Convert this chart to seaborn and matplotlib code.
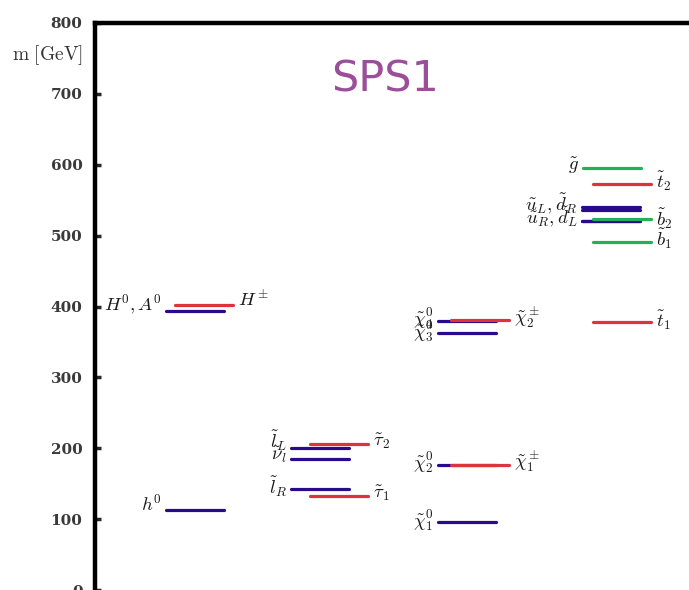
import matplotlib
matplotlib.use("Agg")
import matplotlib.pyplot as plt
import seaborn as sns
import pandas as pd

# Mass spectrum of the SPS1 benchmark point (GeV)
higgs_labels = [r"$h^0$", r"$H^0, A^0$", r"$H^\pm$"]
higgs_mass = [113, 394, 402]
higgs_kind = ["neutral", "neutral", "charged"]

slepton_labels = [r"$\tilde{l}_L$", r"$\tilde{\nu}_l$", r"$\tilde{l}_R$",
                  r"$\tilde{\tau}_2$", r"$\tilde{\tau}_1$"]
slepton_mass = [200, 185, 142, 206, 132]
slepton_kind = ["neutral", "neutral", "neutral", "charged", "charged"]

gaugino_labels = [r"$\tilde{\chi}^0_4$", r"$\tilde{\chi}^0_3$", r"$\tilde{\chi}^0_2$",
                  r"$\tilde{\chi}^0_1$", r"$\tilde{\chi}^\pm_2$", r"$\tilde{\chi}^\pm_1$"]
gaugino_mass = [380, 362, 177, 96, 381, 177]
gaugino_kind = ["neutral", "neutral", "neutral", "neutral", "charged", "charged"]

squark_labels = [r"$\tilde{g}$", r"$\tilde{u}_L$", r"$\tilde{d}_R$", r"$\tilde{u}_R$",
                 r"$\tilde{d}_L$", r"$\tilde{t}_2$", r"$\tilde{b}_2$", r"$\tilde{b}_1$",
                 r"$\tilde{t}_1$"]
squark_mass = [595, 541, 536, 521, 520, 573, 523, 491, 378]
squark_kind = ["gluino", "neutral", "neutral", "neutral", "neutral",
               "charged", "third", "third", "charged"]

y_ticks = [0, 100, 200, 300, 400, 500, 600, 700, 800]

# ---- layout (horizontal placement in pixel-like units) ----
LINE_LEN = 58
column_base = {"higgs": 166, "slepton": 291, "gaugino": 438, "squark": 582}
kind_shift = {
    "higgs": {"neutral": 0, "charged": 9},
    "slepton": {"neutral": 0, "charged": 19},
    "gaugino": {"neutral": 0, "charged": 13},
    "squark": {"neutral": 0, "gluino": 1, "charged": 11, "third": 11},
}
palette = {"neutral": "#2a0a8c", "charged": "#e0323c",
           "gluino": "#22b05c", "third": "#22b05c"}

columns = {
    "higgs": (higgs_labels, higgs_mass, higgs_kind),
    "slepton": (slepton_labels, slepton_mass, slepton_kind),
    "gaugino": (gaugino_labels, gaugino_mass, gaugino_kind),
    "squark": (squark_labels, squark_mass, squark_kind),
}

rows = []
for col, (labels, masses, kinds) in columns.items():
    for i, (lab, m, k) in enumerate(zip(labels, masses, kinds)):
        x0 = column_base[col] + kind_shift[col][k]
        uid = f"{col}-{i}"
        rows.append({"id": uid, "x": x0, "m": m, "kind": k})
        rows.append({"id": uid, "x": x0 + LINE_LEN, "m": m, "kind": k})
df = pd.DataFrame(rows)

sns.set_theme(style="white")
plt.rcParams["mathtext.fontset"] = "cm"
plt.rcParams["font.family"] = ["DejaVu Serif"]

fig = plt.figure(figsize=(6.89, 5.90), dpi=100)
ax = fig.add_axes([95 / 689, 0.0, 1 - 95 / 689, 1 - 23 / 590])

sns.lineplot(data=df, x="x", y="m", units="id", hue="kind", palette=palette,
             estimator=None, sort=False, linewidth=2.3, legend=False, ax=ax)

ax.set_xlim(95, 689)
ax.set_ylim(0, 800)
ax.set_xlabel("")
ax.set_ylabel("")
ax.set_xticks([])
ax.set_yticks(y_ticks)
ax.set_yticklabels([str(t) for t in y_ticks], fontsize=11, fontweight="bold",
                   family=["DejaVu Serif"], color="#3a3a3a")
ax.tick_params(axis="y", direction="in", length=4, width=2.5, pad=9, left=True)
for side in ("right", "bottom"):
    ax.spines[side].set_visible(False)
for side in ("left", "top"):
    ax.spines[side].set_linewidth(3.2)
    ax.spines[side].set_color("black")

lab_kw = dict(fontsize=13.5, color="#1a1a1a", va="center")


def left_label(col, kind, m, text, dy=4):
    x0 = column_base[col] + kind_shift[col][kind]
    ax.text(x0 - 4, m + dy, text, ha="right", **lab_kw)


def right_label(col, kind, m, text, dy=4):
    x1 = column_base[col] + kind_shift[col][kind] + LINE_LEN
    ax.text(x1 + 5, m + dy, text, ha="left", **lab_kw)


# Higgs sector
left_label("higgs", "neutral", higgs_mass[0], higgs_labels[0], dy=7)
left_label("higgs", "neutral", higgs_mass[1], higgs_labels[1], dy=8)
right_label("higgs", "charged", higgs_mass[2], higgs_labels[2], dy=7)

# sleptons
left_label("slepton", "neutral", slepton_mass[0], slepton_labels[0], dy=10)
left_label("slepton", "neutral", slepton_mass[1], slepton_labels[1], dy=6)
left_label("slepton", "neutral", slepton_mass[2], slepton_labels[2], dy=4)
right_label("slepton", "charged", slepton_mass[3], slepton_labels[3], dy=4)
right_label("slepton", "charged", slepton_mass[4], slepton_labels[4], dy=4)

# gauginos
left_label("gaugino", "neutral", gaugino_mass[0], gaugino_labels[0], dy=4)
left_label("gaugino", "neutral", gaugino_mass[1], gaugino_labels[1], dy=3)
left_label("gaugino", "neutral", gaugino_mass[2], gaugino_labels[2], dy=4)
left_label("gaugino", "neutral", gaugino_mass[3], gaugino_labels[3], dy=3)
right_label("gaugino", "charged", gaugino_mass[4], gaugino_labels[4], dy=4)
right_label("gaugino", "charged", gaugino_mass[5], gaugino_labels[5], dy=4)

# squarks and gluino
left_label("squark", "gluino", squark_mass[0], squark_labels[0], dy=4)
left_label("squark", "neutral", (squark_mass[1] + squark_mass[2]) / 2,
           squark_labels[1][:-1] + r", " + squark_labels[2][1:], dy=7)
left_label("squark", "neutral", (squark_mass[3] + squark_mass[4]) / 2,
           squark_labels[3][:-1] + r", " + squark_labels[4][1:], dy=6)
right_label("squark", "charged", squark_mass[5], squark_labels[5], dy=4)
right_label("squark", "third", squark_mass[6], squark_labels[6], dy=1)
right_label("squark", "third", squark_mass[7], squark_labels[7], dy=4)
right_label("squark", "charged", squark_mass[8], squark_labels[8], dy=3)

fig.text(12 / 689, 1 - 55 / 590, r"$\mathrm{m\ [GeV]}$", fontsize=14,
         color="#333333", ha="left", va="center")
fig.text(385 / 689, 1 - 80 / 590, "SPS1", fontsize=31, color="#9b4f9b",
         family=["DejaVu Sans"], ha="center", va="center")

fig.savefig("out.png", dpi=100)
